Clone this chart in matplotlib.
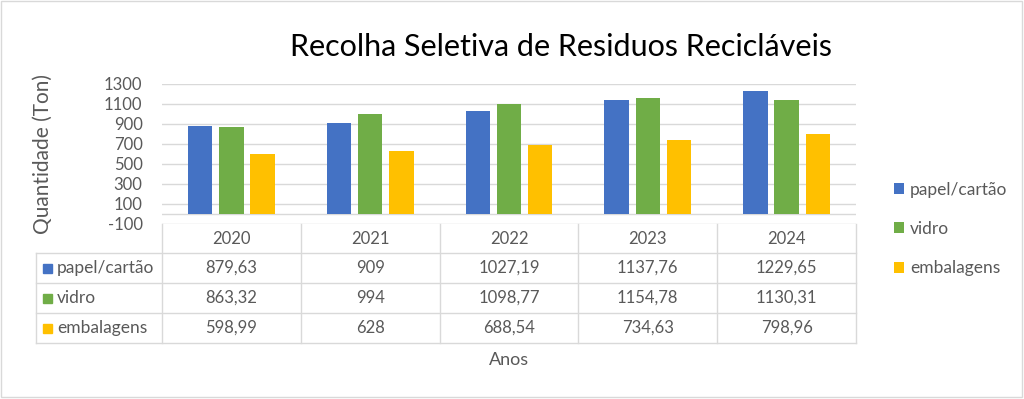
import matplotlib.pyplot as plt
from matplotlib.lines import Line2D
from matplotlib.patches import Rectangle
from matplotlib.transforms import blended_transform_factory

plt.rcParams['font.family'] = ['Lato', 'DejaVu Sans']
plt.rcParams['axes.unicode_minus'] = False

anos = ['2020', '2021', '2022', '2023', '2024']
series = ['papel/cartão', 'vidro', 'embalagens']
papel = [879.63, 909, 1027.19, 1137.76, 1229.65]
vidro = [863.32, 994, 1098.77, 1154.78, 1130.31]
embalagens = [598.99, 628, 688.54, 734.63, 798.96]
cores = ['#4472C4', '#70AD47', '#FFC000']

W, H = 1024, 399
cinza = '#595959'
linha = '#D9D9D9'


def fx(x):
    return x / W


def fy(y):
    return 1 - y / H


def fmt(v):
    return f"{v:g}".replace('.', ',')


fig = plt.figure(figsize=(W / 100, H / 100), dpi=100)
fig.add_artist(Rectangle((fx(1), fy(397)), fx(1021), 396 / H, fill=False,
                         edgecolor=linha, lw=1, transform=fig.transFigure))

ax = fig.add_axes([fx(162), fy(223.5), fx(694), 140 / H])
dados = [papel, vidro, embalagens]
offs = [-0.225, 0, 0.225]
barras = []
for vals, off, cor in zip(dados, offs, cores):
    b = ax.bar([i + off for i in range(len(anos))], vals, width=0.175,
               color=cor, zorder=3)
    barras.append(b)

ax.set_xlim(-0.5, len(anos) - 0.5)
ax.set_ylim(-100, 1300)
ax.set_yticks(range(-100, 1301, 200))
ax.set_xticks([])
ax.grid(axis='y', color=linha, lw=1)
ax.axhline(0, color=linha, lw=1, zorder=2)
for s in ax.spines.values():
    s.set_visible(False)
ax.tick_params(axis='y', length=0, labelcolor=cinza, labelsize=12, pad=14)
ax.set_ylabel('Quantidade (Ton)', color=cinza, fontsize=15)
ax.yaxis.set_label_coords((53 - 162) / 694, 0.5)

fig.text(fx(561), fy(47), 'Recolha Seletiva de Residuos Recicláveis',
         ha='center', va='center', fontsize=22, color='black')

# tabela de dados
tr = blended_transform_factory(ax.transData, fig.transFigure)
topo, cab, linhas = 224, 253, [283, 313, 343]
for i in range(len(anos) + 1):
    fig.add_artist(Line2D([i - 0.5, i - 0.5], [fy(topo), fy(linhas[-1])],
                          color=linha, lw=1, transform=tr))
fig.add_artist(Line2D([fx(36), fx(36)], [fy(cab), fy(linhas[-1])],
                      color=linha, lw=1, transform=fig.transFigure))
for y in [cab] + linhas:
    fig.add_artist(Line2D([fx(36), fx(856)], [fy(y), fy(y)],
                          color=linha, lw=1, transform=fig.transFigure))

for i, ano in enumerate(anos):
    fig.text(i, fy((topo + cab) / 2), ano, transform=tr, ha='center',
             va='center', fontsize=12, color=cinza)

y0 = cab
for nome, vals, cor, y1 in zip(series, dados, cores, linhas):
    yc = (y0 + y1) / 2
    fig.add_artist(Rectangle((fx(43), fy(yc + 4.5)), fx(9), 9 / H,
                             color=cor, transform=fig.transFigure))
    fig.text(fx(57), fy(yc), nome, ha='left', va='center', fontsize=12.5,
             color=cinza)
    for i, v in enumerate(vals):
        fig.text(i, fy(yc), fmt(v), transform=tr, ha='center', va='center',
                 fontsize=12, color=cinza)
    y0 = y1

fig.text(fx(509), fy(360), 'Anos', ha='center', va='center', fontsize=13,
         color=cinza)

fig.legend(barras, series, loc='center left',
           bbox_to_anchor=(fx(885), fy(229)), frameon=False, fontsize=12.5,
           labelcolor=cinza, handlelength=0.6, handleheight=0.6,
           handletextpad=0.35, labelspacing=1.35, borderpad=0)

fig.savefig('out.png', dpi=100)
